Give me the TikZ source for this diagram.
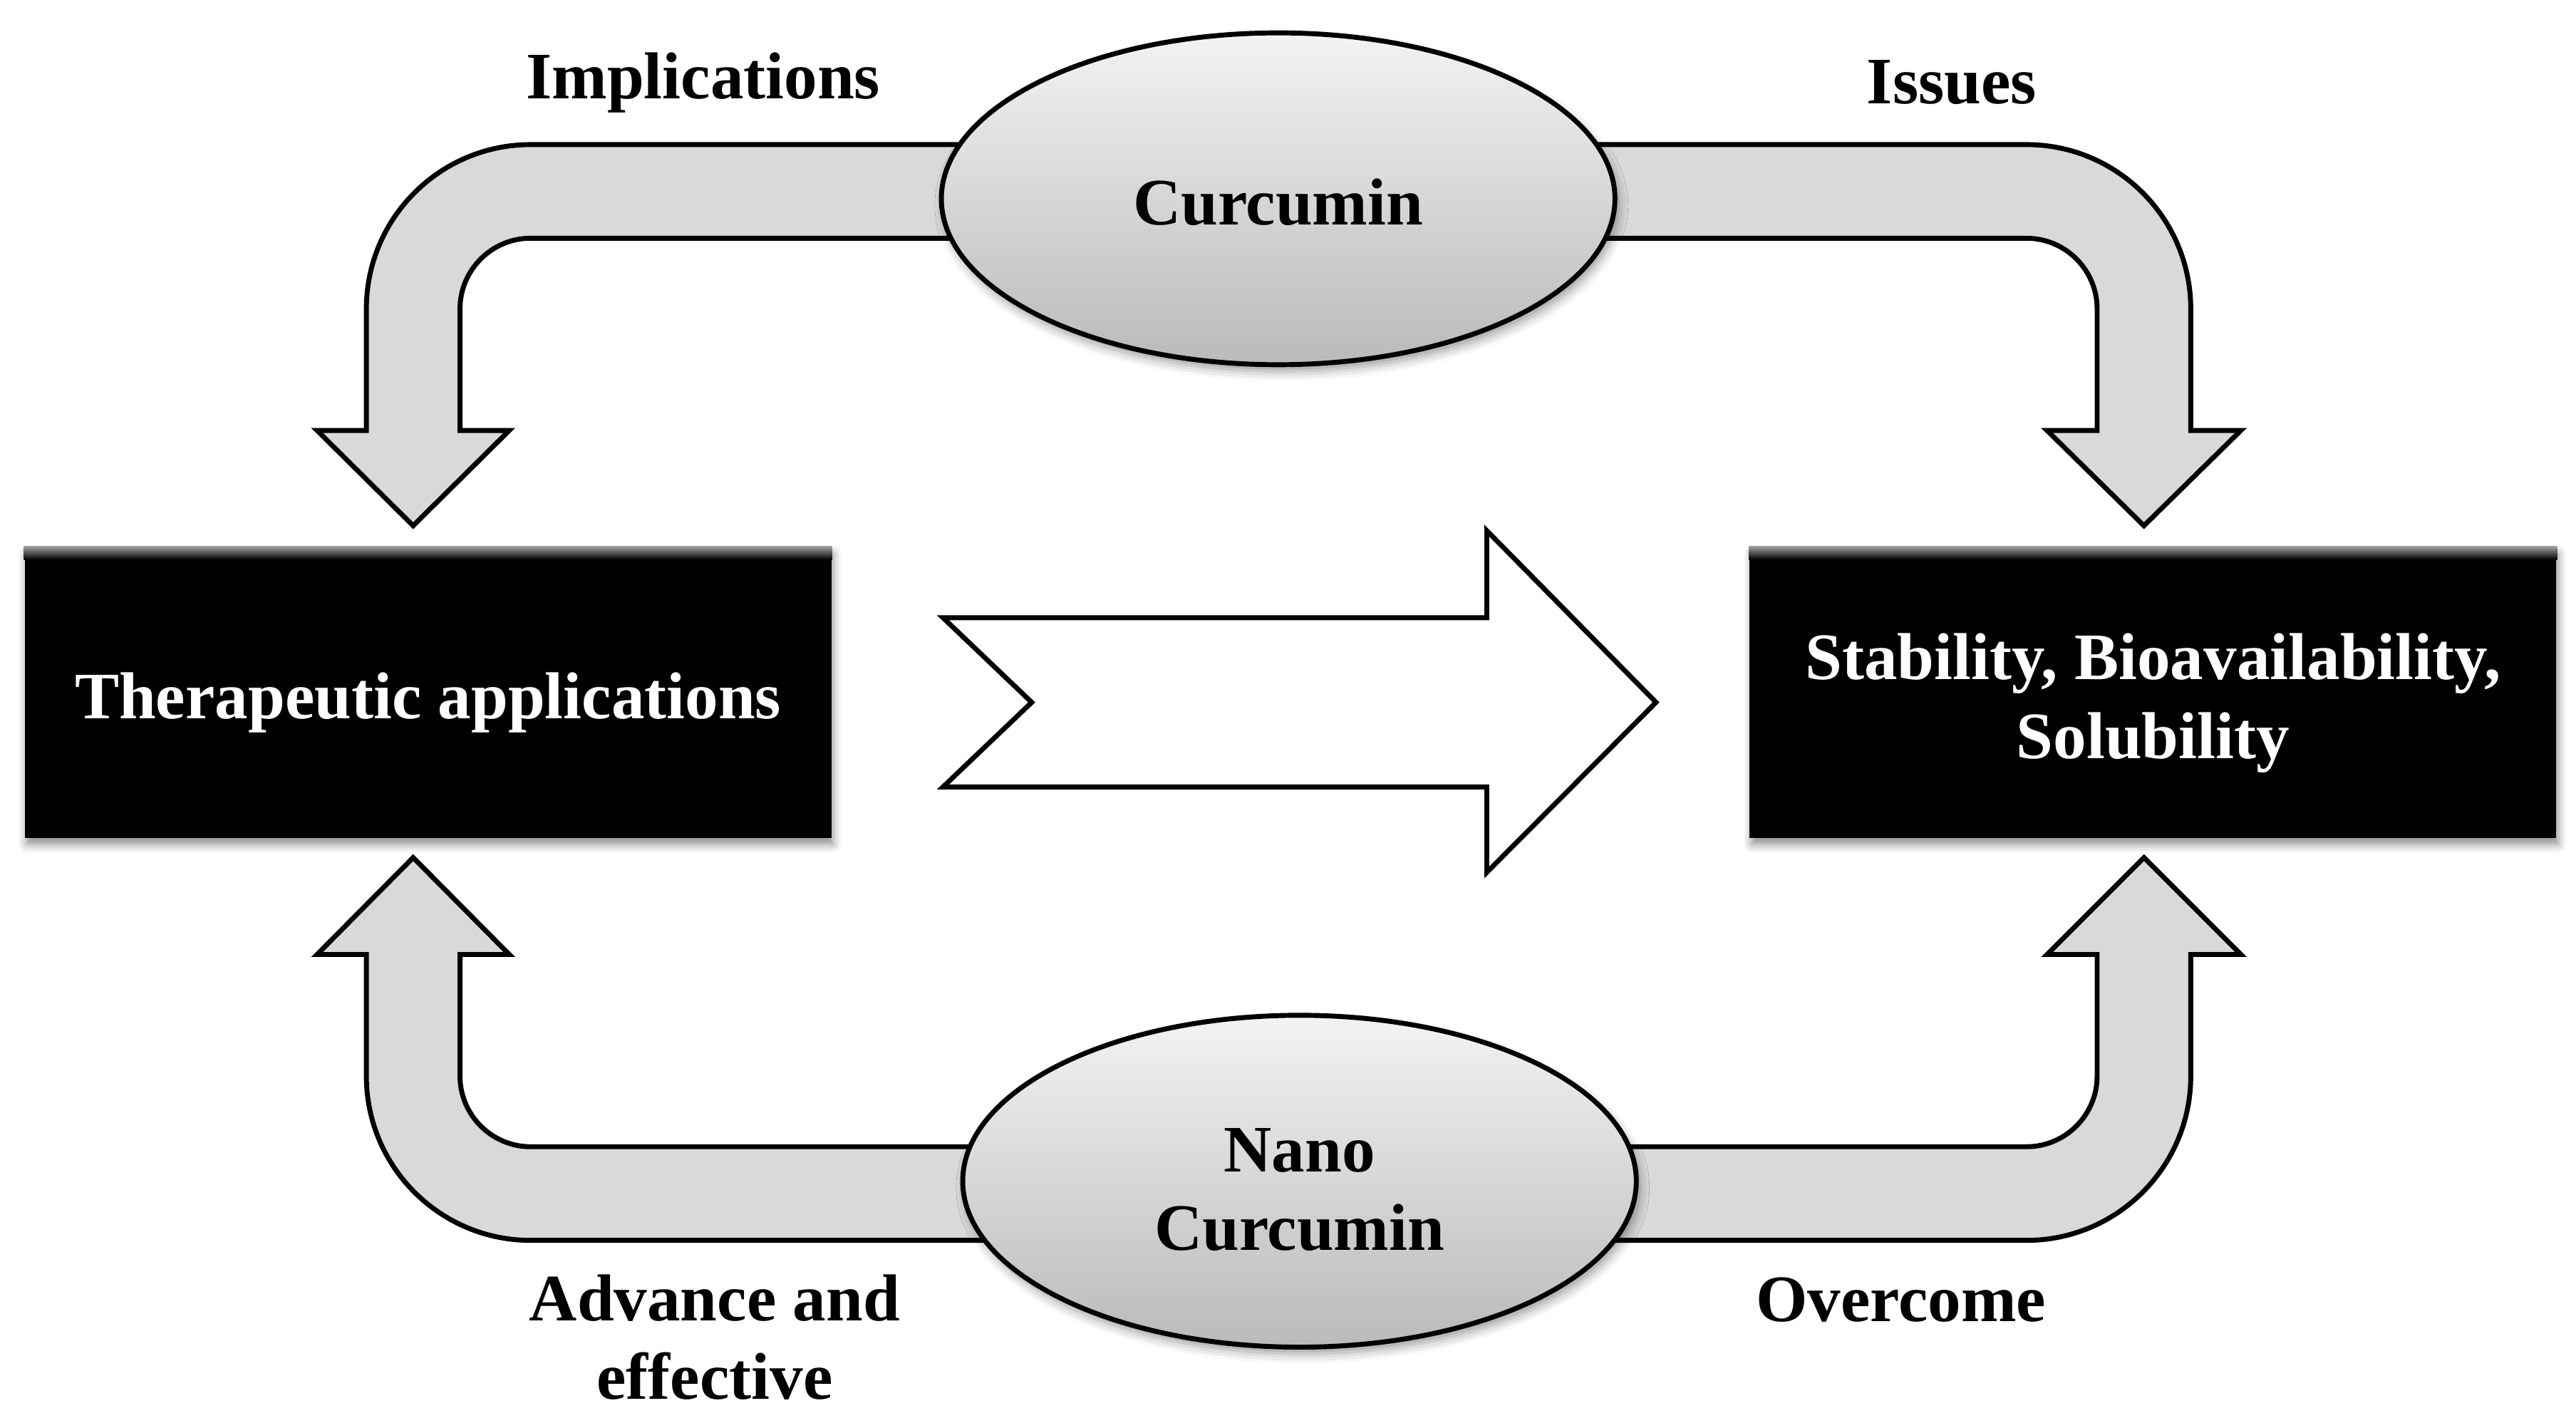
\documentclass[tikz,border=0pt]{standalone}
\usepackage{fontspec}
\setmainfont{Liberation Serif}
\usetikzlibrary{shapes.geometric,shadows.blur}
\definecolor{bandgray}{RGB}{217,217,217}
\definecolor{elltop}{RGB}{243,243,243}
\definecolor{ellbot}{RGB}{186,186,186}
\begin{document}
\begin{tikzpicture}[x=0.5pt,y=-0.5pt,
  font=\fontsize{20.2}{24}\selectfont\bfseries,
  bandarrow/.style={draw=black, line width=1.5pt, fill=bandgray, line join=miter},
  bigarrow/.style={draw=black, line width=1.5pt, fill=white, line join=miter},
  darkbox/.style={rectangle, fill=black, minimum width=245.5pt,
    minimum height=88.5pt, inner sep=0pt,
    blur shadow={shadow xshift=0.6pt, shadow yshift=-2pt, shadow blur radius=2.5pt, shadow opacity=45}},
  boxtext/.style={text=white, align=center, inner sep=0pt},
  oval/.style={ellipse, draw=black, line width=1.5pt, top color=elltop, bottom color=ellbot,
    minimum width=205pt, minimum height=101pt, inner sep=0pt,
    blur shadow={shadow xshift=1pt, shadow yshift=-2pt, shadow blur radius=3pt, shadow opacity=40}},
  lbl/.style={align=center, inner sep=0pt}]
\useasboundingbox (0,0) rectangle (1568,869.2);

% bent block arrows (drawn under the ovals)
\draw[bandarrow] (700,88) -- (323,88) .. controls (267.8,88) and (223,132.8) .. (223,188)
  -- (223,262) -- (193,262) -- (251.5,320) -- (310,262) -- (280,262) -- (280,188)
  .. controls (280,164.3) and (299.3,145) .. (323,145) -- (700,145) -- cycle;
\draw[bandarrow] (880,88) -- (1233.5,88) .. controls (1288.7,88) and (1333.5,132.8) .. (1333.5,188)
  -- (1333.5,262) -- (1364,262) -- (1305,320) -- (1246,262) -- (1276.5,262) -- (1276.5,188)
  .. controls (1276.5,164.3) and (1257.2,145) .. (1233.5,145) -- (880,145) -- cycle;
\draw[bandarrow] (700,698) -- (323,698) .. controls (299.3,698) and (280,678.7) .. (280,655)
  -- (280,581) -- (310,581) -- (251.5,522) -- (193,581) -- (223,581) -- (223,655)
  .. controls (223,710.2) and (267.8,755) .. (323,755) -- (700,755) -- cycle;
\draw[bandarrow] (880,698) -- (1233.5,698) .. controls (1257.2,698) and (1276.5,678.7) .. (1276.5,655)
  -- (1276.5,581) -- (1246,581) -- (1305,522) -- (1364,581) -- (1333.5,581) -- (1333.5,655)
  .. controls (1333.5,710.2) and (1288.7,755) .. (1233.5,755) -- (880,755) -- cycle;

% ovals
\node[oval] (cur) at (778,121) {};
\node[lbl] (curtxt) at ([yshift=-1pt]cur.center) {Curcumin};
\node[oval] (nano) at (791,719) {};
\node[lbl] (nanotxt) at ([yshift=-2.6pt]nano.center) {Nano\\Curcumin};

% dark boxes
\node[darkbox] (ther) at (260.5,421.5) {};
\node[darkbox] (stab) at (1310.5,421.5) {};
\foreach \b in {ther,stab}{
  \shade[top color=gray!75, bottom color=black] (\b.north west) rectangle ([yshift=-4pt]\b.north east);
}
\node[boxtext] (thertxt) at ([yshift=-3.2pt]ther.center) {Therapeutic applications};
\node[boxtext] (stabtxt) at ([yshift=-3.2pt]stab.center) {Stability, Bioavailability,\\Solubility};

% central notched arrow
\draw[bigarrow] (574,376) -- (905,376) -- (905,323) -- (1008,427.5) -- (905,531)
  -- (905,479) -- (574,479) -- (628,427.5) -- cycle;

% labels
\node[lbl] (limp) at (428,50.5) {Implications};
\node[lbl] (liss) at (1188,50) {Issues};
\node[lbl] (ladv) at (435,814) {Advance and\\effective};
\node[lbl] (lover) at (1157,791) {Overcome};
\end{tikzpicture}
\end{document}
